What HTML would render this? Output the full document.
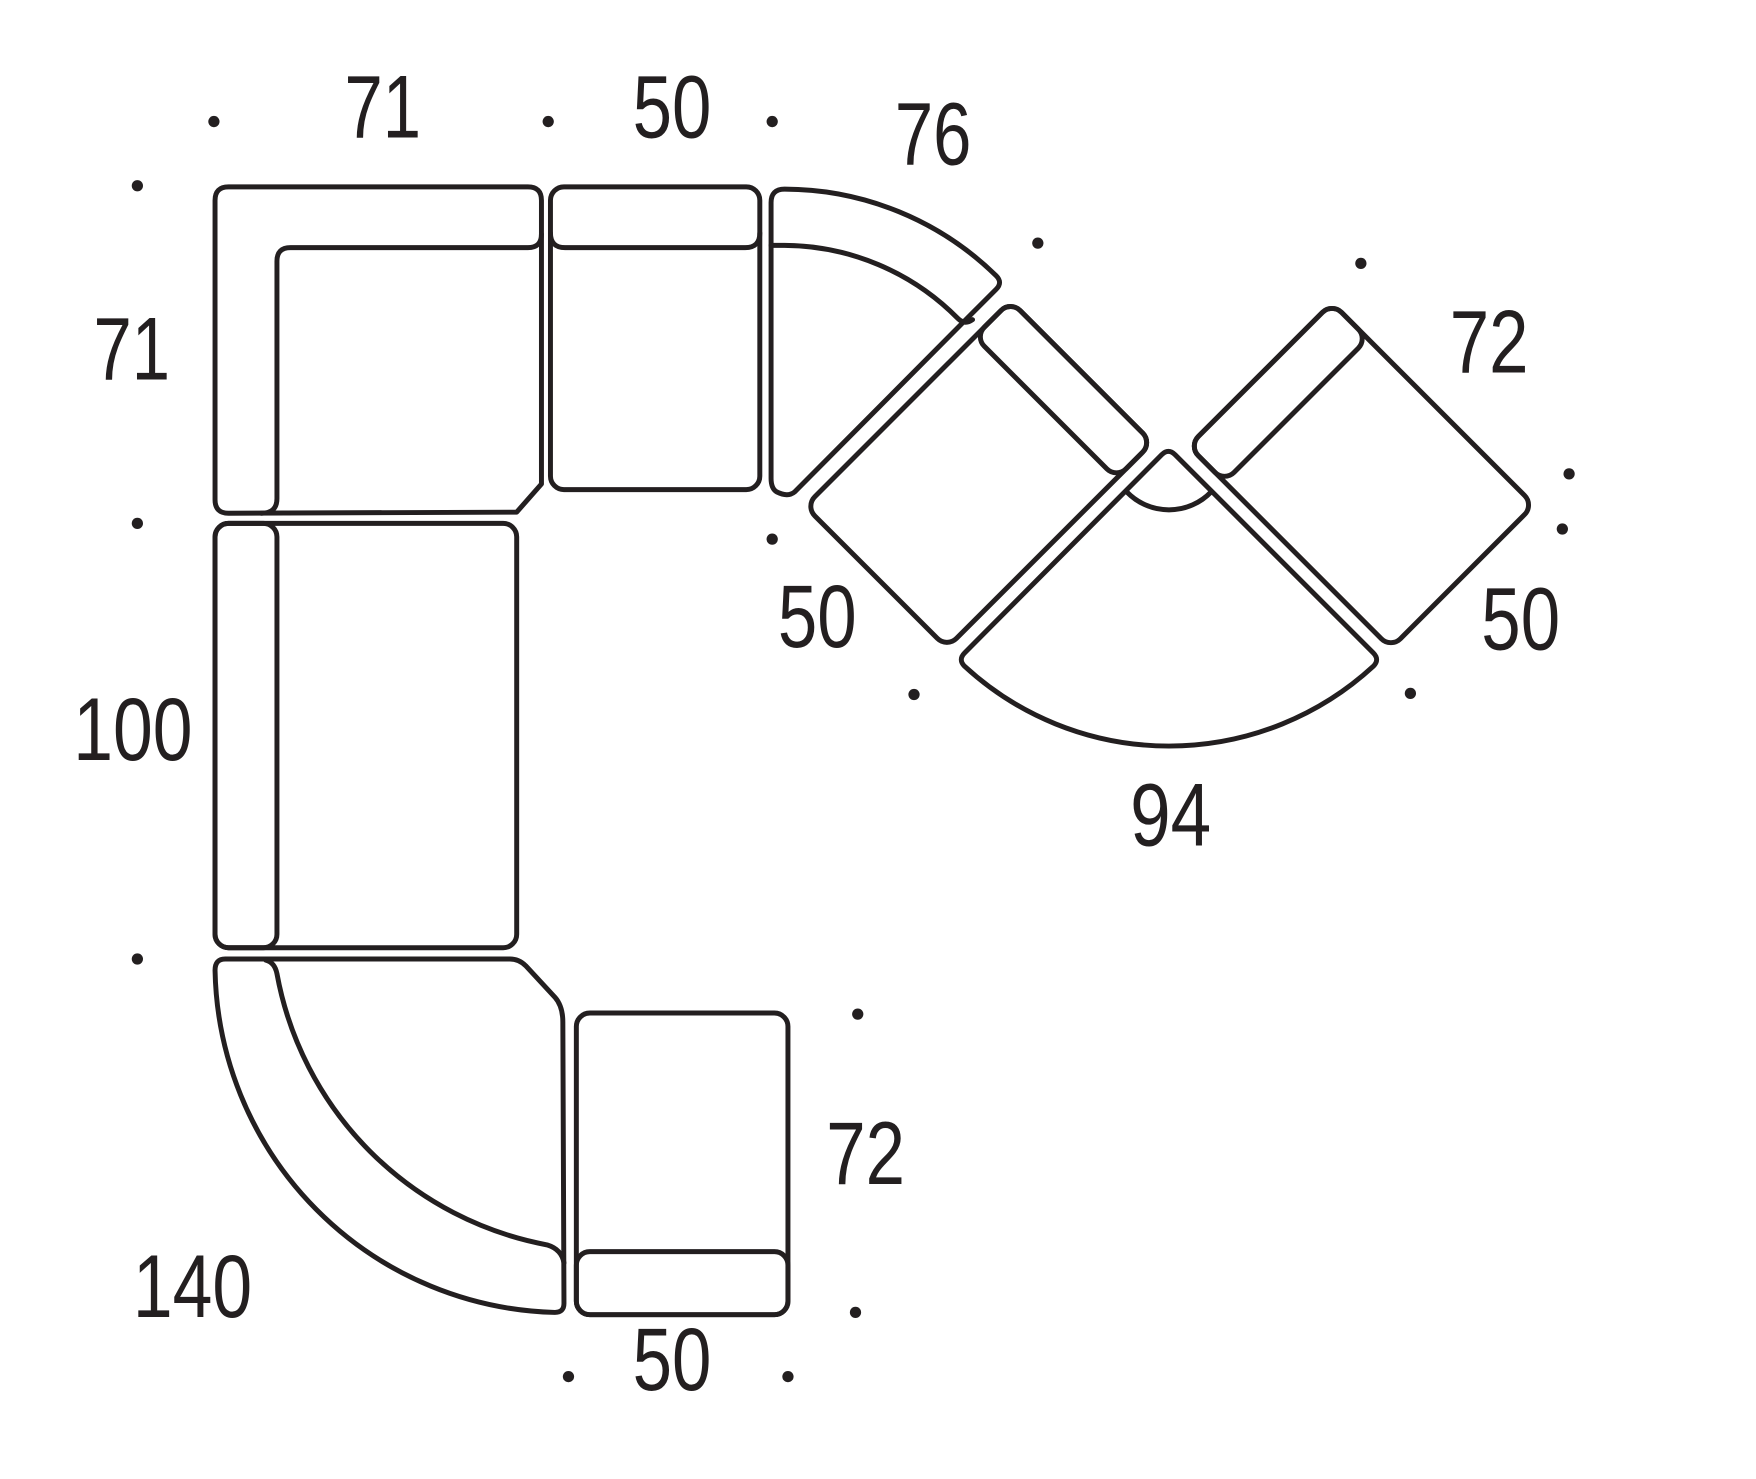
<!DOCTYPE html>
<html><head><style>html,body{margin:0;padding:0;background:#fff}svg{display:block}</style></head>
<body>
<svg width="1756" height="1479" viewBox="0 0 1560 1314" xmlns="http://www.w3.org/2000/svg">
<g fill="none" stroke="#231f20" stroke-width="4.4" stroke-linejoin="round" stroke-linecap="round">
<path d="M203,166 L469,166 Q481,166 481,178 L481,430 L459,455 L203,456 Q191,456 191,444 L191,178 Q191,166 203,166 Z"/>
<path d="M481,208 Q481,220 469,220 L258,220 Q246,220 246,232 L246,443 Q246,456 232,456"/>
<rect x="489" y="166" width="186" height="269" rx="12"/>
<path d="M489,207 Q489,220 502,220 L662,220 Q675,220 675,207"/>
<path d="M685,180 Q685,168 697,168 A269,269 0 0 1 885,245 Q891,251 885,257 L862,280 L706,437 Q700,442 690,437 Q685,434 685,425 Z"/>
<path d="M685,218 L697,218 A218,218 0 0 1 851,283 Q857,289 864,284"/>
<g transform="translate(869.5,421.5) rotate(-45)">
<rect x="-129" y="-89" width="258" height="178" rx="12"/>
<rect x="84" y="-89" width="45" height="178" rx="12"/>
</g>
<g transform="translate(1209.5,422.5) rotate(45)">
<rect x="-127" y="-90" width="254" height="180" rx="12"/>
<rect x="-127" y="-90" width="45" height="180" rx="12"/>
</g>
<path d="M1032,404 Q1038,398 1044,404 L1220,580 Q1226,586 1220,592 A268,268 0 0 1 857,592 Q851,586 857,580 Z"/>
<path d="M1001,437 A52,52 0 0 0 1076,437"/>
<rect x="191" y="465" width="268" height="377" rx="12"/>
<rect x="191" y="465" width="55" height="377" rx="12"/>
<path d="M200,852 L453,852 Q461,852 467,858 L493,886 Q500,894 500,908 L501,1158 Q501,1166 493,1166 A310,310 0 0 1 191,862 Q191,852 200,852 Z"/>
<path d="M236,853 Q244,855 246,865 A300,300 0 0 0 486,1106 Q499,1110 501,1122"/>
<rect x="512" y="900" width="188" height="268" rx="12"/>
<rect x="512" y="1112" width="188" height="56" rx="12"/>
</g>
<g fill="#231f20">
<circle cx="190" cy="108" r="5"/><circle cx="487" cy="108" r="5"/><circle cx="686" cy="108" r="5"/>
<circle cx="122" cy="165" r="5"/><circle cx="122" cy="465" r="5"/><circle cx="122" cy="852" r="5"/>
<circle cx="922" cy="216" r="5"/><circle cx="1209" cy="234" r="5"/><circle cx="1394" cy="421" r="5"/>
<circle cx="1388" cy="470" r="5"/><circle cx="686" cy="479" r="5"/><circle cx="812" cy="617" r="5"/>
<circle cx="1253" cy="616" r="5"/><circle cx="762" cy="901" r="5"/><circle cx="760" cy="1166" r="5"/>
<circle cx="505" cy="1223" r="5"/><circle cx="700" cy="1223" r="5"/>
</g>
<g font-family="Liberation Sans, sans-serif" font-size="79" fill="#231f20" text-anchor="middle">
<text x="340" y="122" textLength="68" lengthAdjust="spacingAndGlyphs">71</text>
<text x="597" y="122" textLength="70" lengthAdjust="spacingAndGlyphs">50</text>
<text x="829" y="146" textLength="68" lengthAdjust="spacingAndGlyphs">76</text>
<text x="117" y="337" textLength="68" lengthAdjust="spacingAndGlyphs">71</text>
<text x="1323" y="331" textLength="70" lengthAdjust="spacingAndGlyphs">72</text>
<text x="726" y="575" textLength="70" lengthAdjust="spacingAndGlyphs">50</text>
<text x="1351" y="577" textLength="70" lengthAdjust="spacingAndGlyphs">50</text>
<text x="118" y="675" textLength="106" lengthAdjust="spacingAndGlyphs">100</text>
<text x="1040" y="751" textLength="72" lengthAdjust="spacingAndGlyphs">94</text>
<text x="769" y="1052" textLength="70" lengthAdjust="spacingAndGlyphs">72</text>
<text x="171" y="1170" textLength="106" lengthAdjust="spacingAndGlyphs">140</text>
<text x="597" y="1235" textLength="70" lengthAdjust="spacingAndGlyphs">50</text>
</g>
</svg>
</body></html>
